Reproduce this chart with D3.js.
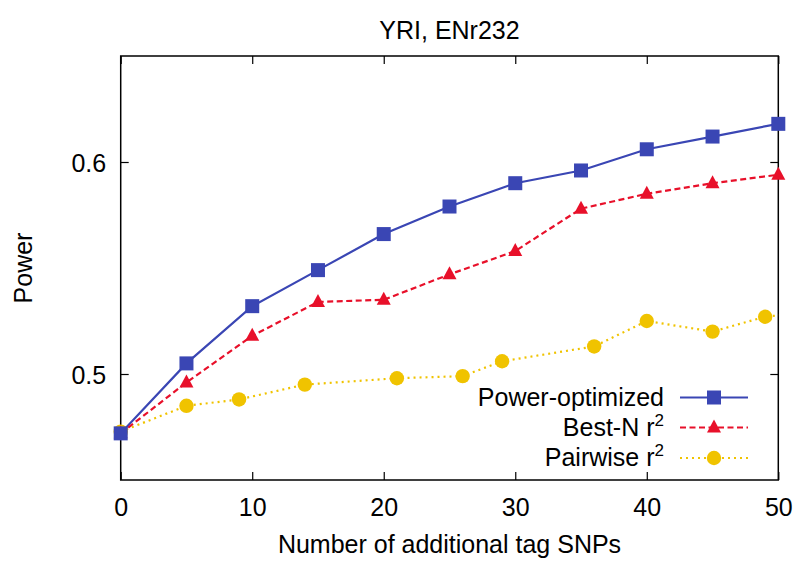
<!DOCTYPE html>
<html><head><meta charset="utf-8">
<script src="https://cdn.jsdelivr.net/npm/d3@7"></script>
<style>body{margin:0;background:#fff}svg{display:block}text{font-family:"Liberation Sans",Arial,Helvetica,sans-serif;fill:#000}</style>
</head><body><svg id="c" width="800" height="563"></svg>
<script>
const title = "YRI, ENr232";
const xLabel = "Number of additional tag SNPs";
const yLabel = "Power";
const xTicks = [0, 10, 20, 30, 40, 50];
const yTicks = [0.5, 0.6];

const powerX = [0, 5, 10, 15, 20, 25, 30, 35, 40, 45, 50];
const powerY = [0.472, 0.505, 0.532, 0.549, 0.566, 0.579, 0.590, 0.596, 0.606, 0.612, 0.618];
const bestX = [0, 5, 10, 15, 20, 25, 30, 35, 40, 45, 50];
const bestY = [0.472, 0.496, 0.518, 0.534, 0.535, 0.547, 0.558, 0.578, 0.585, 0.590, 0.594];
const pairX = [0, 5, 9, 14, 21, 26, 29, 36, 40, 45, 49, 52];
const pairY = [0.4728, 0.485, 0.488, 0.495, 0.498, 0.499, 0.506, 0.513, 0.525, 0.520, 0.527, 0.529];

const seriesNames = ["Power-optimized", "Best-N r", "Pairwise r"];
const colors = ["#3a46b4", "#e8102a", "#f0c300"];

const svg = d3.select("#c");
const L = 120.7, R = 778.3, T = 56, B = 480;
const x = d3.scaleLinear().domain([0, 50]).range([L, R]);
const y = d3.scaleLinear().domain([0.45, 0.65]).range([B, T]);
const FS = 25;

svg.append("defs").append("clipPath").attr("id", "clip")
  .append("rect").attr("x", L).attr("y", T).attr("width", R - L).attr("height", B - T);

// axes (inward ticks, mirrored)
const tl = 8;
const gB = svg.append("g").attr("transform", `translate(0,${B})`)
  .call(d3.axisBottom(x).tickValues(xTicks).tickSizeInner(-tl).tickSizeOuter(0).tickPadding(18).tickFormat(d3.format("d")));
const gT = svg.append("g").attr("transform", `translate(0,${T})`)
  .call(d3.axisTop(x).tickValues(xTicks).tickSizeInner(-tl).tickSizeOuter(0).tickFormat(""));
const gL = svg.append("g").attr("transform", `translate(${L},0)`)
  .call(d3.axisLeft(y).tickValues(yTicks).tickSizeInner(-tl).tickSizeOuter(0).tickPadding(14.5).tickFormat(d3.format(".1f")));
const gR = svg.append("g").attr("transform", `translate(${R},0)`)
  .call(d3.axisRight(y).tickValues(yTicks).tickSizeInner(-tl).tickSizeOuter(0).tickFormat(""));
[gB, gT, gL, gR].forEach(g => {
  g.select(".domain").remove();
  g.selectAll("line").attr("stroke", "#000").attr("stroke-width", 1.2);
  g.selectAll("text").style("font-size", FS + "px").style("font-family", '"Liberation Sans",Arial,sans-serif').attr("fill", "#000");
});
gB.selectAll("text").attr("dy", "0.71em");
gL.selectAll("text").attr("dy", "0.36em");
svg.append("rect").attr("x", L).attr("y", T).attr("width", R - L).attr("height", B - T)
  .attr("fill", "none").attr("stroke", "#000").attr("stroke-width", 1.5);

// labels
svg.append("text").attr("x", (L + R) / 2).attr("y", 39).attr("text-anchor", "middle").style("font-size", FS + "px").text(title);
svg.append("text").attr("x", (L + R) / 2).attr("y", 553).attr("text-anchor", "middle").style("font-size", FS + "px").text(xLabel);
svg.append("text").attr("transform", `translate(32,${(T + B) / 2}) rotate(-90)`).attr("text-anchor", "middle").style("font-size", FS + "px").text(yLabel);

const dashes = [null, "6,3.5", "2,4"];
const series = [
  {xs: powerX, ys: powerY, sym: "square"},
  {xs: bestX, ys: bestY, sym: "triangle"},
  {xs: pairX, ys: pairY, sym: "circle"}
];

function drawSym(g, sym, cx, cy, col) {
  if (sym === "square") {
    g.append("rect").attr("x", cx - 7).attr("y", cy - 7).attr("width", 14).attr("height", 14).attr("fill", col);
  } else if (sym === "triangle") {
    g.append("path").attr("d", `M${cx},${cy - 8}L${cx + 7},${cy + 5}L${cx - 7},${cy + 5}Z`).attr("fill", col);
  } else {
    g.append("circle").attr("cx", cx).attr("cy", cy).attr("r", 7.2).attr("fill", col);
  }
}

const line = d3.line().x(d => x(d[0])).y(d => y(d[1]));
series.forEach((s, i) => {
  const pts = s.xs.map((v, k) => [v, s.ys[k]]);
  svg.append("path").datum(pts).attr("d", line).attr("fill", "none")
    .attr("stroke", colors[i]).attr("stroke-width", 2.2)
    .attr("stroke-dasharray", dashes[i]).attr("clip-path", "url(#clip)");
});
series.slice().reverse().forEach((s, ri) => {
  const i = series.length - 1 - ri;
  const g = svg.append("g");
  s.xs.forEach((v, k) => {
    if (v >= 0 && v <= 50) drawSym(g, s.sym, x(v), y(s.ys[k]), colors[i]);
  });
});

// legend
const legY = [397.5, 427.5, 458];
seriesNames.forEach((nm, i) => {
  const t = svg.append("text").attr("x", 664).attr("y", legY[i] + 8).attr("text-anchor", "end").style("font-size", FS + "px");
  t.append("tspan").text(nm);
  if (i > 0) t.append("tspan").attr("dy", -10).style("font-size", "17px").text("2");
  svg.append("line").attr("x1", 680).attr("x2", 748).attr("y1", legY[i]).attr("y2", legY[i])
    .attr("stroke", colors[i]).attr("stroke-width", 2.2).attr("stroke-dasharray", dashes[i]);
  drawSym(svg.append("g"), series[i].sym, 714, legY[i], colors[i]);
});
</script></body></html>
